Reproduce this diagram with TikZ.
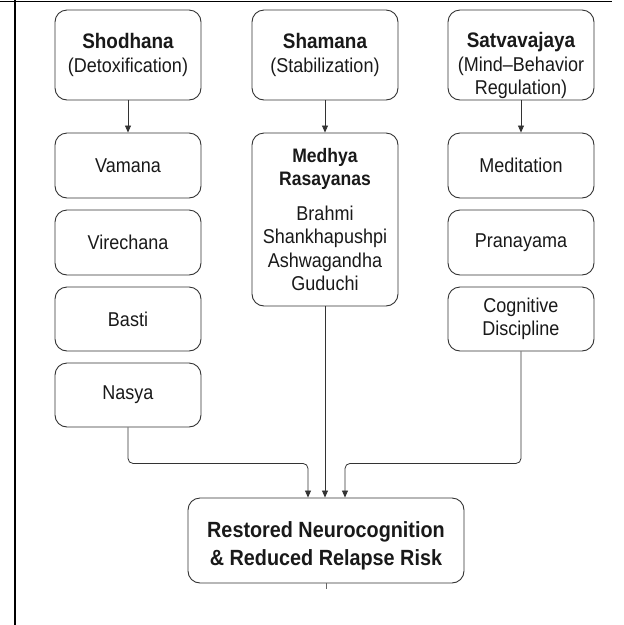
\documentclass[tikz,border=0pt]{standalone}
\usepackage{fontspec}
\setmainfont{Liberation Sans}[FakeStretch=0.9]
\usetikzlibrary{arrows.meta, positioning}

\newcommand{\hd}[1]{{\bfseries\fontsize{21}{24}\selectfont #1}}
\newcommand{\md}[1]{{\bfseries\fontsize{19.5}{25.5}\selectfont #1}}
\newcommand{\fin}[1]{{\bfseries\fontsize{22}{26}\selectfont #1}}

\begin{document}
\begin{tikzpicture}[
    x=1pt, y=-1pt,
    box/.style={rectangle, rounded corners=12pt, draw=black!80, line width=0.9pt, minimum width=146pt, minimum height=65pt, inner sep=2pt, align=center, text=black!90, font=\fontsize{20}{23.5}\selectfont},
    head/.style={box, minimum height=90pt},
    link/.style={-{Triangle[length=7pt, width=6pt]}, draw=black!80, line width=0.8pt},
    merge/.style={link, rounded corners=5pt}
]
\useasboundingbox (0,0) rectangle (624,625);

% Frame
\draw[line width=2pt] (15,0) -- (15,625);
\draw[line width=1pt] (0,1) -- (612,1);

% Nodes
\node[head] (shodhana) at (128,55) {\hd{Shodhana}\\(Detoxification)};
\node[head] (shamana) at (325,55) {\hd{Shamana}\\(Stabilization)};
\node[head, inner ysep=0pt] (satva) at (521,55) {\rule{0pt}{37pt}\hd{Satvavajaya}\\(Mind--Behavior\\Regulation)};

\node[box] (vamana) at (128,165.5) {Vamana};
\node[box] (virechana) at (128,242.5) {Virechana};
\node[box, minimum height=64pt] (basti) at (128,319) {Basti};
\node[box, minimum height=64pt] (nasya) at (128,395) {Nasya};

\node[box, minimum height=173pt] (medhya) at (325,219.5) {\md{Medhya}\\\md{Rasayanas}\\[11pt]Brahmi\\Shankhapushpi\\Ashwagandha\\Guduchi};

\node[box] (meditation) at (521,165.5) {Meditation};
\node[box] (pranayama) at (521,242.5) {Pranayama};
\node[box, minimum height=64pt] (cognitive) at (521,319) {Cognitive\\Discipline};

\node[box, minimum width=276pt, minimum height=85pt] (final) at (326,540.5) {\rule{0pt}{27pt}\fin{Restored Neurocognition}\\[5pt]\fin{\& Reduced Relapse Risk}};

% Paths
\draw[link] (shodhana) -- (vamana);
\draw[link] (shamana) -- (medhya);
\draw[link] (satva) -- (meditation);

\draw[merge] (nasya.south) -- ++(0,36) -| ([xshift=-18pt]final.north);
\draw[link] (medhya.south) -- (medhya.south |- final.north);
\draw[merge] (cognitive.south) -- ++(0,112) -| ([xshift=19pt]final.north);
\draw[black!60, line width=0.6pt] (final.south) -- ++(0,6);
\end{tikzpicture}
\end{document}
